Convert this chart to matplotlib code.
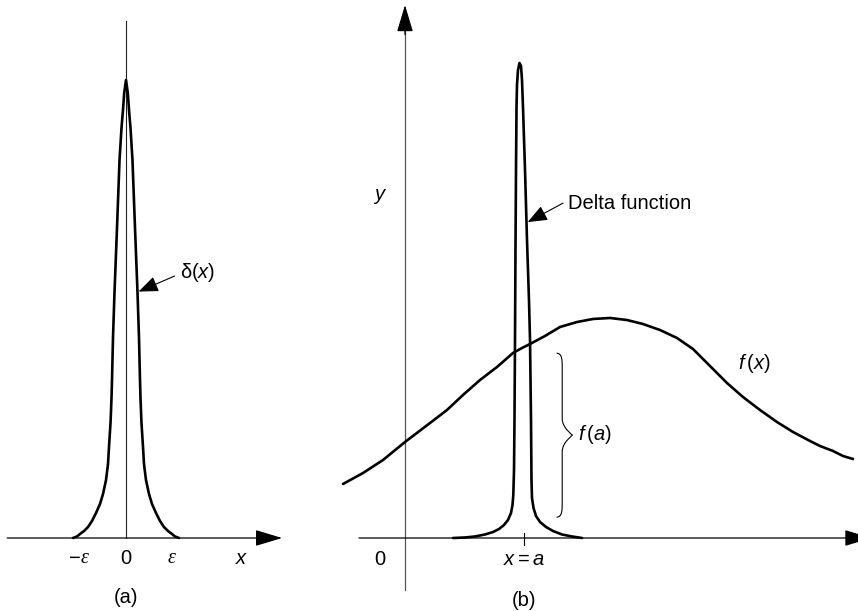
import numpy as np
import matplotlib
matplotlib.use("Agg")
import matplotlib.pyplot as plt
from matplotlib.path import Path
from matplotlib.patches import PathPatch

plt.rcParams['font.family'] = ['Liberation Sans', 'DejaVu Sans']
plt.rcParams['mathtext.fontset'] = 'custom'
plt.rcParams['mathtext.rm'] = 'Liberation Sans'
plt.rcParams['mathtext.it'] = 'Liberation Sans:italic'

# panel (a): narrow spike, x in units of epsilon, peak height 10
delta_a_x = [-1.178, -1.089, -1.022, -0.933, -0.844, -0.756, -0.667, -0.578, -0.511, -0.444,
             -0.400, -0.378, -0.344, -0.322, -0.311, -0.289, -0.256, -0.200, -0.144, -0.100,
             -0.067, -0.040, 0.0,
             0.040, 0.067, 0.100, 0.144, 0.200, 0.256, 0.289, 0.311, 0.322, 0.344, 0.378,
             0.400, 0.444, 0.511, 0.578, 0.667, 0.756, 0.844, 0.933, 1.022, 1.089, 1.178]
delta_a_y = [0.0, 0.033, 0.087, 0.153, 0.240, 0.371, 0.546, 0.742, 0.961, 1.266,
             1.616, 1.987, 2.511, 3.057, 3.450, 4.367, 5.349, 6.769, 8.253, 8.952,
             9.345, 9.716, 10.0,
             9.716, 9.345, 8.952, 8.253, 6.769, 5.349, 4.367, 3.450, 3.057, 2.511, 1.987,
             1.616, 1.266, 0.961, 0.742, 0.546, 0.371, 0.240, 0.153, 0.087, 0.033, 0.0]

# panel (b): smooth f(x) and the spike at x = a
f_x = [-1.562, -1.058, -0.554, 0.0, 0.630, 1.058, 1.461, 1.889, 2.317, 2.519, 2.720, 2.947,
       3.149, 3.526, 3.904, 4.332, 4.736, 5.164, 5.592, 5.995, 6.423, 6.851, 7.254, 7.683,
       8.111, 8.514, 8.942, 9.370, 9.773, 10.202, 10.453, 10.781, 11.033, 11.285]
f_y = [1.137, 1.368, 1.642, 2.021, 2.421, 2.695, 3.011, 3.326, 3.600, 3.747, 3.895, 4.000,
       4.084, 4.253, 4.442, 4.547, 4.611, 4.632, 4.589, 4.505, 4.379, 4.211, 3.979, 3.621,
       3.263, 2.968, 2.695, 2.442, 2.232, 2.042, 1.937, 1.832, 1.726, 1.663]

delta_b_x = [1.209, 1.511, 1.763, 2.015, 2.217, 2.368, 2.494, 2.594, 2.670, 2.708, 2.728,
             2.746, 2.758, 2.771, 2.783, 2.796, 2.809, 2.821, 2.846, 2.884,
             2.922, 2.947, 2.972, 3.023, 3.073, 3.123, 3.149, 3.174, 3.186, 3.199, 3.237,
             3.300, 3.401, 3.552, 3.728, 3.955, 4.207, 4.458]
delta_b_y = [0.0, 0.011, 0.032, 0.074, 0.126, 0.189, 0.274, 0.379, 0.526, 0.695, 0.905,
             1.432, 2.484, 4.168, 6.063, 7.747, 9.074, 9.537, 9.853, 10.0,
             9.937, 9.642, 9.074, 7.747, 6.274, 5.011, 4.168, 2.484, 1.221, 0.842, 0.632,
             0.463, 0.337, 0.232, 0.147, 0.074, 0.032, 0.0]

a_pos = 3.0
f_at_a = 3.89
brace_bottom = 0.44

W, H = 858, 611
fig = plt.figure(figsize=(W / 100, H / 100), dpi=100)


def make_axes(left_px, right_px, x0_px, y0_px, sx, sy):
    ax = fig.add_axes([left_px / W, 0, (right_px - left_px) / W, 1])
    ax.set_xlim((left_px - x0_px) / sx, (right_px - x0_px) / sx)
    ax.set_ylim((y0_px - H) / sy, y0_px / sy)
    ax.axis('off')
    return ax


def arrow(ax, start, tip, lw=0.9, color='black'):
    ax.annotate('', xy=tip, xytext=start,
                arrowprops=dict(arrowstyle='-|>,head_length=0.6,head_width=0.18',
                                mutation_scale=28, lw=lw, color=color,
                                shrinkA=0, shrinkB=0),
                annotation_clip=False)


def small_arrow(ax, start, tip):
    ax.annotate('', xy=tip, xytext=start,
                arrowprops=dict(arrowstyle='-|>,head_length=0.55,head_width=0.22',
                                mutation_scale=22, lw=0.8, color='black',
                                shrinkA=0, shrinkB=0))


def brace(ax, x, y0, y1, hook, depth, lw=0.8):
    ym = (y0 + y1) / 2
    xs = x + hook
    verts = [(x, y1), (xs, y1), (xs, y1 - 0.15), (xs, y1 - 0.3),
             (xs, ym + 0.35),
             (xs, ym + 0.15), (x + hook + depth, ym), (x + hook + depth, ym),
             (x + hook + depth, ym), (xs, ym - 0.15), (xs, ym - 0.35),
             (xs, y0 + 0.3),
             (xs, y0 + 0.15), (xs, y0), (x, y0)]
    codes = [Path.MOVETO, Path.CURVE4, Path.CURVE4, Path.CURVE4,
             Path.LINETO,
             Path.CURVE4, Path.CURVE4, Path.CURVE4,
             Path.CURVE4, Path.CURVE4, Path.CURVE4,
             Path.LINETO,
             Path.CURVE4, Path.CURVE4, Path.CURVE4]
    ax.add_patch(PathPatch(Path(verts, codes), fill=False, lw=lw, color='black'))


label_size = 14.5
curve = dict(color='black', lw=1.9, solid_joinstyle='round', solid_capstyle='round')

# ---- panel (a)
ax_a = make_axes(0, 290, 126, 538, 45.0, 45.8)
arrow(ax_a, (-2.64, 0), (3.47, 0))
ax_a.plot([0, 0], [0, 11.29], color='#222222', lw=0.8)
ax_a.plot(delta_a_x, delta_a_y, **curve)
small_arrow(ax_a, (1.08, 5.72), (0.28, 5.38))
ax_a.text(1.2, 5.79, r'$\mathrm{\delta}(x)$', fontsize=label_size, ha='left', va='center')
ax_a.text(-1.0, -0.44, '\u2212', fontsize=label_size, ha='right', va='center')
ax_a.text(-1.0, -0.44, '\u03b5', fontsize=label_size, ha='left', va='center',
          family='Liberation Serif', style='italic')
ax_a.text(0, -0.44, '0', fontsize=label_size, ha='center', va='center')
ax_a.text(1.0, -0.44, '\u03b5', fontsize=label_size, ha='center', va='center',
          family='Liberation Serif', style='italic')
ax_a.text(2.58, -0.44, r'$x$', fontsize=label_size, ha='center', va='center')
ax_a.text(0, -1.31, '(a)', fontsize=label_size, ha='center', va='center')

# ---- panel (b)
ax_b = make_axes(290, 858, 405, 538, 39.7, 47.5)
arrow(ax_b, (-1.16, 0), (11.75, 0))
ax_b.plot([0, 0], [-1.09, 10.8], color='#555555', lw=0.9)
arrow(ax_b, (0, 10.6), (0, 11.22))
ax_b.plot([a_pos, a_pos], [-0.15, 0.1], color='black', lw=0.8)
ax_b.plot(f_x, f_y, **curve)
ax_b.plot(delta_b_x, delta_b_y, **curve)
brace(ax_b, 3.82, brace_bottom, f_at_a, 0.14, 0.26)
small_arrow(ax_b, (3.98, 7.05), (3.09, 6.65))
ax_b.text(4.11, 7.05, 'Delta function', fontsize=label_size, ha='left', va='center')
ax_b.text(-0.63, 7.18, r'$y$', fontsize=label_size, ha='center', va='center')
ax_b.text(-0.63, -0.46, '0', fontsize=label_size, ha='center', va='center')
ax_b.text(a_pos, -0.46, r'$x = a$', fontsize=label_size, ha='center', va='center')
ax_b.text(a_pos, -1.31, '(b)', fontsize=label_size, ha='center', va='center')
ax_b.text(8.79, 3.68, r'$f\,(x)$', fontsize=label_size, ha='center', va='center')
ax_b.text(4.36, 2.17, r'$f\,(a)$', fontsize=label_size, ha='left', va='center')

fig.savefig('out.png', dpi=100)
